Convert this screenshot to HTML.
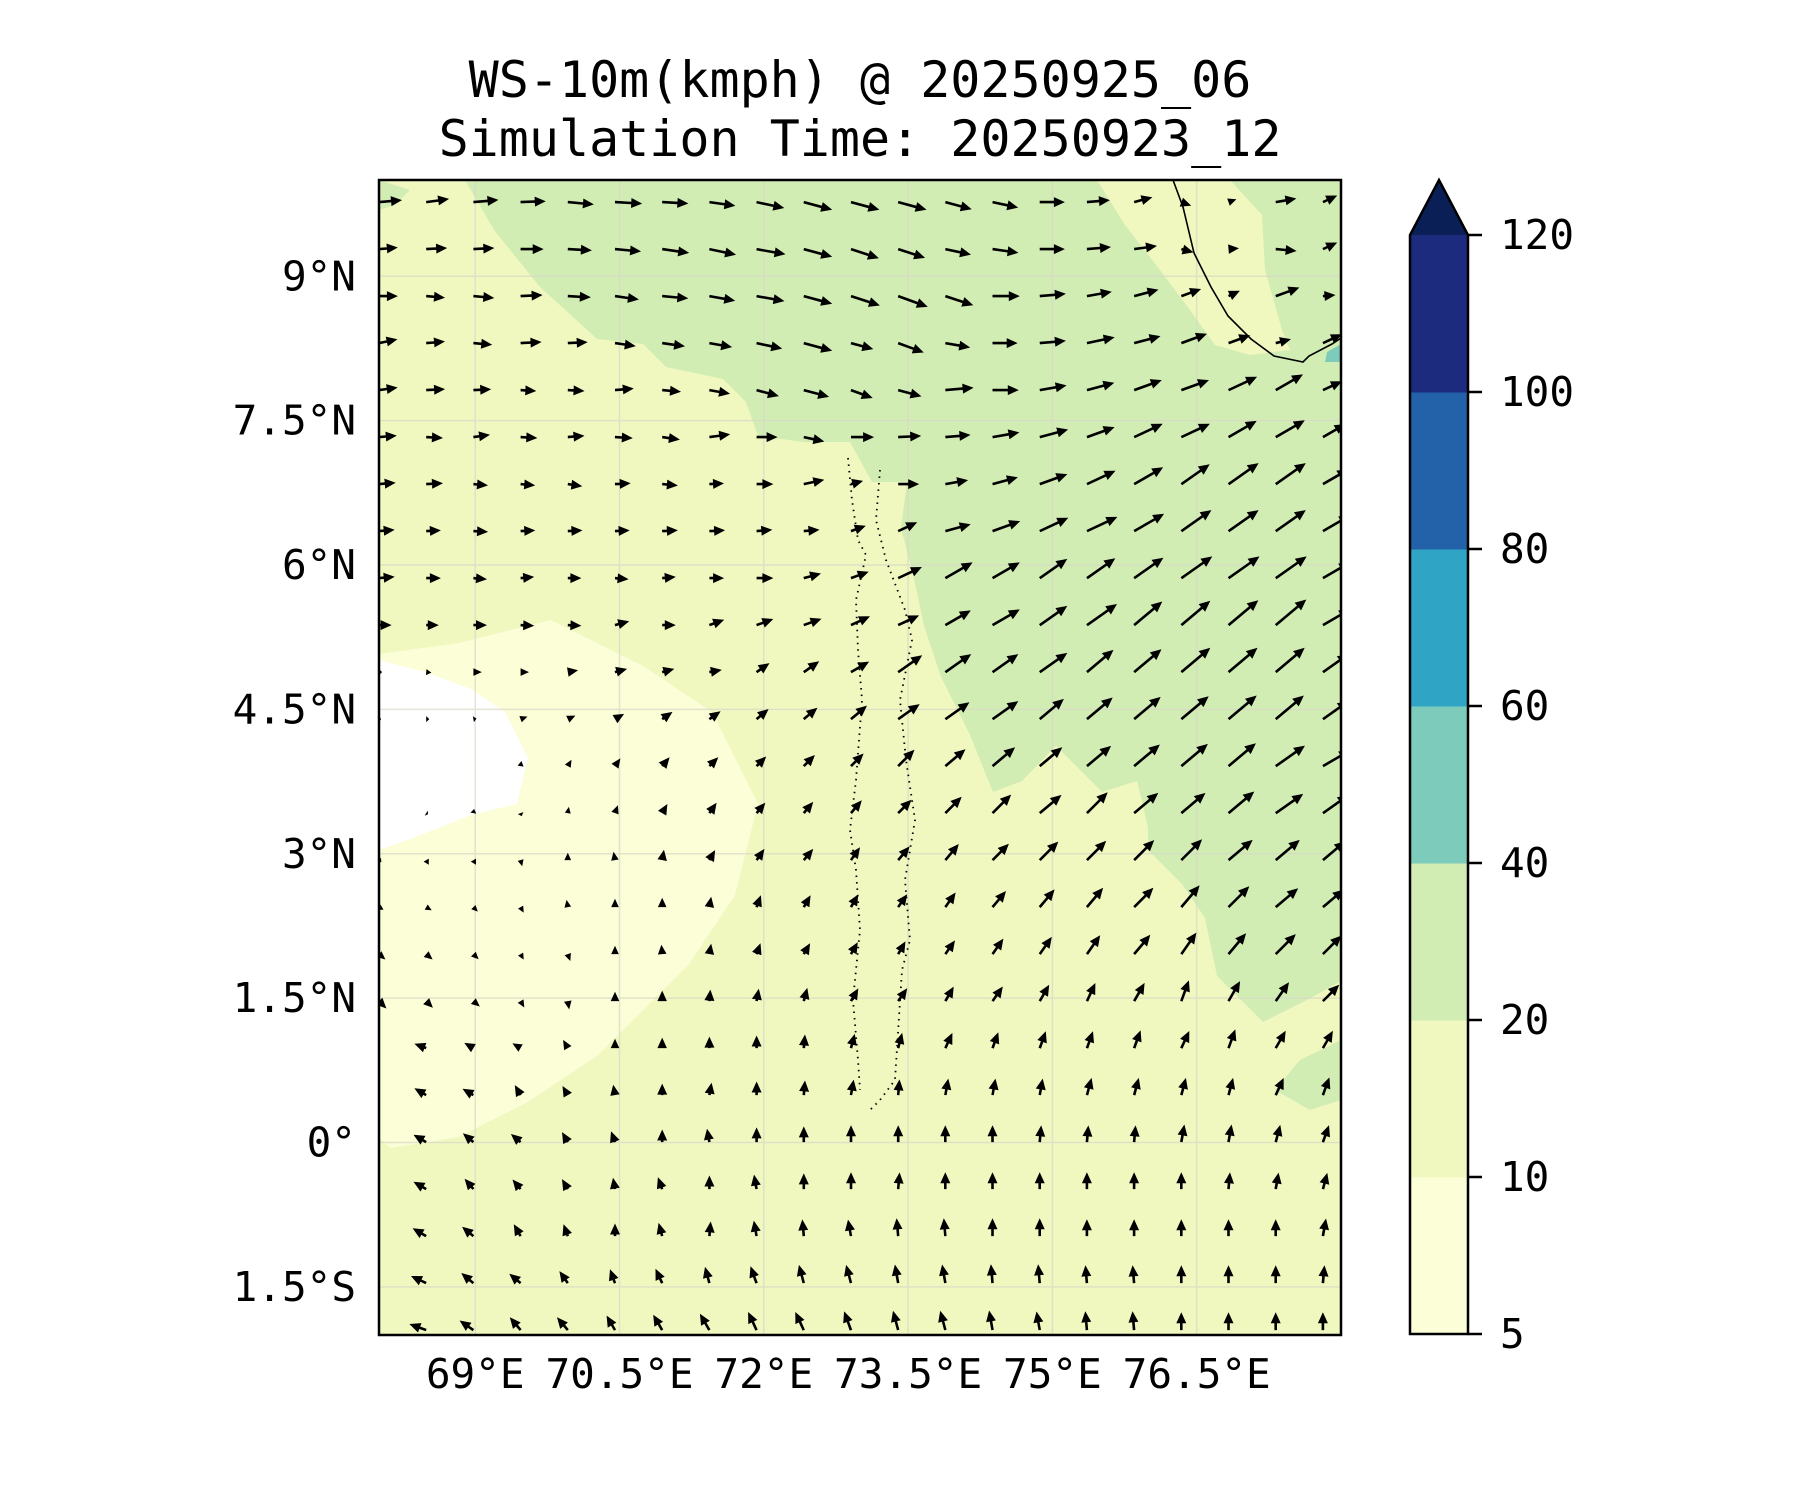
<!DOCTYPE html>
<html><head><meta charset="utf-8">
<style>
html,body{margin:0;padding:0;background:#fff;}
svg{display:block;}
text{font-family:"DejaVu Sans Mono","Liberation Mono",monospace;fill:#000;}
</style></head>
<body>
<svg id="chart" width="1800" height="1500" viewBox="0 0 1800 1500" xmlns="http://www.w3.org/2000/svg">
  <defs><clipPath id="plotclip"><rect x="379" y="180" width="962" height="1155"/></clipPath></defs>
  <g>
    <text x="860" y="97" font-size="50" text-anchor="middle">WS-10m(kmph) @ 20250925_06</text>
    <text x="860" y="156" font-size="50" text-anchor="middle">Simulation Time: 20250923_12</text>
  </g>
  <g clip-path="url(#plotclip)">
    <rect x="379" y="180" width="962" height="1155" fill="#f0f8c0"/>
    <polygon fill="#fbfed6" points="379,654 459,643 551,620 643,666 712,712 758,804 735,895 689,964 643,1010 597,1056 528,1102 459,1137 390,1148 379,1137"/>
    <polygon fill="#ffffff" points="379,660 425,672 471,689 505,712 528,758 517,804 471,815 413,838 379,850"/>
    <polygon fill="#d2edb4" points="379,180 465,180 494,230 540,287 597,339 643,344 666,367 723,379 746,402 758,436 804,442 850,442 872,482 907,482 901,528 913,574 924,626 941,677 970,735 993,792 1022,781 1056,746 1102,792 1137,781 1148,827 1148,850 1182,884 1205,918 1217,976 1240,999 1263,1022 1309,999 1341,981 1341,180 1230,180 1262,215 1265,270 1282,330 1290,350 1250,355 1215,345 1190,310 1160,270 1125,225 1097,180 465,180 379,180 379,210 395,205 410,190"/>
    <polygon fill="#d2edb4" points="1275,1090 1300,1060 1341,1040 1341,1100 1310,1110"/>
    <polygon fill="#7dcbbb" points="1327,352 1341,344 1341,362 1325,362"/>
    <g id="grid" stroke="#d8d8c8" stroke-width="1.5" opacity="0.7"></g>
    <polyline fill="none" stroke="#000" stroke-width="1.6" points="1173,180 1183,207 1194,253 1211,287 1228,316 1251,339 1274,356 1303,362 1309,356 1332,344 1341,338"/>
    <polyline fill="none" stroke="#000" stroke-width="1.8" stroke-dasharray="1.5,5" points="848,458 852,500 858,540 866,555 856,600 858,650 862,700 856,780 850,830 856,870 860,930 853,1000 858,1060 860,1090"/>
    <polyline fill="none" stroke="#000" stroke-width="1.8" stroke-dasharray="1.5,5" points="880,470 876,520 886,560 905,610 912,640 900,700 906,760 915,820 905,880 910,940 902,970 895,1080 880,1100 870,1110"/>
    <g id="arrows"></g>
  </g>
  <rect x="379" y="180" width="962" height="1155" fill="none" stroke="#000" stroke-width="2.5"/>
  <g id="yticks"></g>
  <g id="xticks"></g>
  <g id="cbar"></g>
</svg>
<script>
const lonTicks=[69,70.5,72,73.5,75,76.5];
const lonLabels=["69°E","70.5°E","72°E","73.5°E","75°E","76.5°E"];
const latTicks=[9,7.5,6,4.5,3,1.5,0,-1.5];
const latLabels=["9°N","7.5°N","6°N","4.5°N","3°N","1.5°N","0°","1.5°S"];
const cbLevels=[5,10,20,40,60,80,100,120];
const cbColors=["#fbfed6","#f0f8c0","#d2edb4","#7dcbbb","#2fa4c4","#2362a8","#1d2b7e"];
const cbExtendColor="#0b1f57";
const angleRows=[
[5,8,5,2,-5,-3,-3,-8,-12,-15,-15,-15,-15,-12,0,5,15,-20,20,10,25],
[5,3,3,0,-3,-5,-8,-12,-10,-15,-18,-18,-12,-8,0,5,8,-15,5,-5,25],
[0,-5,-5,3,-3,-8,-5,-10,-10,-15,-18,-20,-18,0,5,10,15,20,25,20,5],
[12,5,-5,3,3,-8,-8,-10,-12,-15,-15,-20,-10,0,5,12,15,20,20,15,25],
[8,3,3,-3,-3,5,-5,-10,-15,-15,-20,-15,5,0,10,15,20,20,25,30,25],
[5,-3,8,-3,5,-3,-8,8,0,-12,0,3,5,10,15,20,25,25,30,30,30],
[5,3,-5,-5,-8,3,-5,3,0,12,15,0,10,15,20,25,30,35,35,35,30],
[5,3,-3,3,3,3,3,3,5,5,20,25,15,20,25,25,30,35,35,35,30],
[5,0,-5,5,0,-5,5,0,0,15,20,25,30,30,35,35,35,35,35,35,30],
[0,0,0,-3,-3,15,0,20,20,20,25,25,30,30,35,35,40,40,40,40,30],
[0,-5,0,0,10,15,15,10,35,35,30,35,35,35,35,40,40,40,40,40,35],
[0,0,10,20,25,30,35,35,40,40,40,35,35,35,40,40,40,40,40,40,35],
[0,0,0,80,60,55,50,45,45,45,45,45,40,40,40,40,40,40,40,35,30],
[0,-30,80,-70,80,70,60,55,50,50,50,45,45,45,40,45,40,40,40,35,35],
[-40,-60,-60,-75,90,100,80,60,55,50,55,50,50,45,45,45,45,45,40,40,40],
[-30,-30,-45,-60,100,90,90,80,70,60,60,55,55,50,50,50,45,50,45,40,40],
[-40,-40,-45,-60,-70,90,95,80,70,60,60,60,55,55,55,55,50,55,50,45,45],
[-45,-45,-40,-60,-80,90,90,85,80,75,60,55,60,55,60,65,60,70,60,55,45],
[160,160,150,150,120,90,90,90,90,85,75,75,65,70,70,70,70,65,70,60,60],
[150,150,150,120,120,100,90,80,90,85,80,85,80,80,80,75,75,75,75,65,70],
[150,150,140,140,120,110,90,100,90,90,90,90,90,90,85,85,85,80,80,75,70],
[150,150,130,130,120,100,110,90,100,90,90,85,90,90,90,90,90,90,85,80,75],
[150,150,140,120,110,90,105,85,100,95,100,95,95,90,90,90,90,90,90,90,80],
[155,155,140,140,125,110,115,105,110,105,105,100,100,95,95,95,95,90,90,90,85],
[160,160,145,130,130,120,120,120,115,115,110,105,105,100,100,95,95,90,90,90,90]];
const speedRows=[
[22,22,24,24,25,26,25,25,27,28,28,28,26,25,24,22,18,10,8,20,15],
[18,20,20,22,23,25,26,26,28,28,28,27,25,25,24,23,22,12,10,20,15],
[18,18,20,21,22,23,25,25,27,28,29,30,28,26,25,24,24,20,12,24,12],
[18,18,18,20,19,20,22,22,25,28,22,26,24,24,25,27,26,26,22,15,20],
[18,18,17,15,16,18,18,20,22,25,22,23,27,25,26,27,28,28,30,30,20],
[17,16,16,16,16,17,17,20,20,20,22,22,24,26,28,28,30,30,31,32,25],
[16,16,14,14,14,15,15,14,16,20,12,20,22,25,28,30,32,33,35,35,28],
[15,14,14,14,14,14,15,15,15,15,15,20,25,28,30,32,33,35,35,35,30],
[15,14,13,13,13,13,13,14,16,17,18,25,30,30,32,33,34,36,36,36,30],
[12,12,13,13,13,14,13,15,17,18,20,22,28,30,32,35,35,36,37,38,30],
[3,5,8,8,10,12,12,12,15,18,20,28,30,30,32,33,34,36,36,36,30],
[2,3,3,7,8,10,12,13,15,17,20,25,28,30,30,32,33,34,35,35,30],
[0,1,1,5,7,9,11,12,13,15,17,22,25,28,28,30,32,33,34,34,30],
[1,2,4,3,6,8,10,12,13,14,16,18,22,25,27,28,30,30,32,32,30],
[3,5,5,6,7,8,10,11,13,14,15,17,20,22,25,26,27,28,30,30,28],
[5,6,6,6,7,8,9,10,12,13,14,15,17,20,22,24,26,27,28,28,26],
[8,8,7,6,7,8,9,10,11,12,13,14,16,18,20,22,24,25,26,27,25],
[10,9,8,7,8,9,10,11,12,13,14,15,16,17,18,19,20,21,22,22,22],
[12,12,10,9,9,9,10,11,12,13,14,15,16,16,17,17,18,18,19,19,19],
[13,13,12,11,10,10,11,12,13,14,15,15,16,16,16,17,17,17,17,18,18],
[14,14,13,12,11,11,12,13,14,15,16,16,16,16,16,16,16,17,17,17,17],
[14,14,13,12,11,11,12,13,14,15,16,16,16,16,16,16,16,16,16,16,16],
[15,15,14,13,12,12,13,14,15,16,16,17,17,17,17,16,16,16,16,16,17],
[16,16,15,14,14,14,15,16,17,18,18,18,18,18,18,17,17,17,17,17,17],
[17,17,16,16,16,16,17,18,19,19,19,19,19,19,18,18,18,17,17,17,17]];

const NS="http://www.w3.org/2000/svg";
const X0=379,X1=1341,Y0=180,Y1=1335,LON0=68,LON1=78,LAT0=-2,LAT1=10;
function xOf(lon){return X0+(lon-LON0)/(LON1-LON0)*(X1-X0);}
function yOf(lat){return Y0+(LAT1-lat)/(LAT1-LAT0)*(Y1-Y0);}
function mk(tag,attrs,parent){const e=document.createElementNS(NS,tag);for(const k in attrs)e.setAttribute(k,attrs[k]);parent.appendChild(e);return e;}

const grid=document.getElementById('grid');
lonTicks.forEach(function(l){const ln=mk('line',{x1:xOf(l),x2:xOf(l),y1:Y0,y2:Y1},grid);

});
latTicks.forEach(function(l){const ln=mk('line',{x1:X0,x2:X1,y1:yOf(l),y2:yOf(l)},grid);

});

const yt=document.getElementById('yticks');
latTicks.forEach(function(l,i){const t=mk('text',{x:356,y:yOf(l)+14,'font-size':41,'text-anchor':'end'},yt);t.textContent=latLabels[i];

});
const xt=document.getElementById('xticks');
lonTicks.forEach(function(l,i){const t=mk('text',{x:xOf(l),y:1388,'font-size':41,'text-anchor':'middle'},xt);t.textContent=lonLabels[i];

});

const ag=document.getElementById('arrows');
const nCols=21,nRows=25,dLon=0.4906,dLat=0.4883,latTop=9.77;
const K=1.05,HL=11,HW=5,SW=1.3;
for(let j=0;j<nRows;j++){
  for(let i=0;i<nCols;i++){
    const lon=LON0+dLon*i, lat=latTop-dLat*j;
    const sp=speedRows[j][i], ang=angleRows[j][i]*Math.PI/180;
    const L=sp*K; if(L<1.5) continue;
    const x=xOf(lon), y=yOf(lat);
    const ux=Math.cos(ang), uy=-Math.sin(ang), px=-uy, py=ux;
    let s=1,shaft=L-HL; if(shaft<0){s=L/HL;shaft=0;}
    const hl=HL*s, hw=HW*Math.max(s,0.6);
    const bx=x+ux*shaft, by=y+uy*shaft, tx=bx+ux*hl, ty=by+uy*hl;
    let pts;
    if(shaft>0){
      pts=[[x+px*SW,y+py*SW],[bx+px*SW,by+py*SW],[bx+px*hw,by+py*hw],[tx,ty],[bx-px*hw,by-py*hw],[bx-px*SW,by-py*SW],[x-px*SW,y-py*SW]];
    } else {
      pts=[[bx+px*hw,by+py*hw],[tx,ty],[bx-px*hw,by-py*hw]];
    }
    const p=mk('polygon',{points:pts.map(function(q){return q[0].toFixed(1)+','+q[1].toFixed(1);}).join(' '),fill:'#000'},ag);
    
    
  }
}

const cb=document.getElementById('cbar');
const CBX=1410,CBW=58,CBTOP=235,CBBOT=1334;
const seg=(CBBOT-CBTOP)/(cbLevels.length-1);
function cbY(idx){return CBBOT-idx*seg;}
for(let k=0;k<cbColors.length;k++){
  const r=mk('rect',{x:CBX,y:cbY(k+1),width:CBW,height:seg+0.5,fill:cbColors[k]},cb);
  
  
}
const tri=mk('polygon',{points:CBX+','+CBTOP+' '+(CBX+CBW/2)+',180 '+(CBX+CBW)+','+CBTOP,fill:cbExtendColor},cb);


const outline=mk('polygon',{points:CBX+','+CBBOT+' '+CBX+','+CBTOP+' '+(CBX+CBW/2)+',180 '+(CBX+CBW)+','+CBTOP+' '+(CBX+CBW)+','+CBBOT,fill:'none',stroke:'#000','stroke-width':2.5},cb);


cbLevels.forEach(function(v,k){
  const y=cbY(k);
  const tk=mk('line',{x1:CBX+CBW,x2:CBX+CBW+14,y1:y,y2:y,stroke:'#000','stroke-width':2.5},cb);
  
  
  const t=mk('text',{x:1500,y:y+14,'font-size':41},cb);t.textContent=String(v);
  
  
});
</script>
</body></html>
